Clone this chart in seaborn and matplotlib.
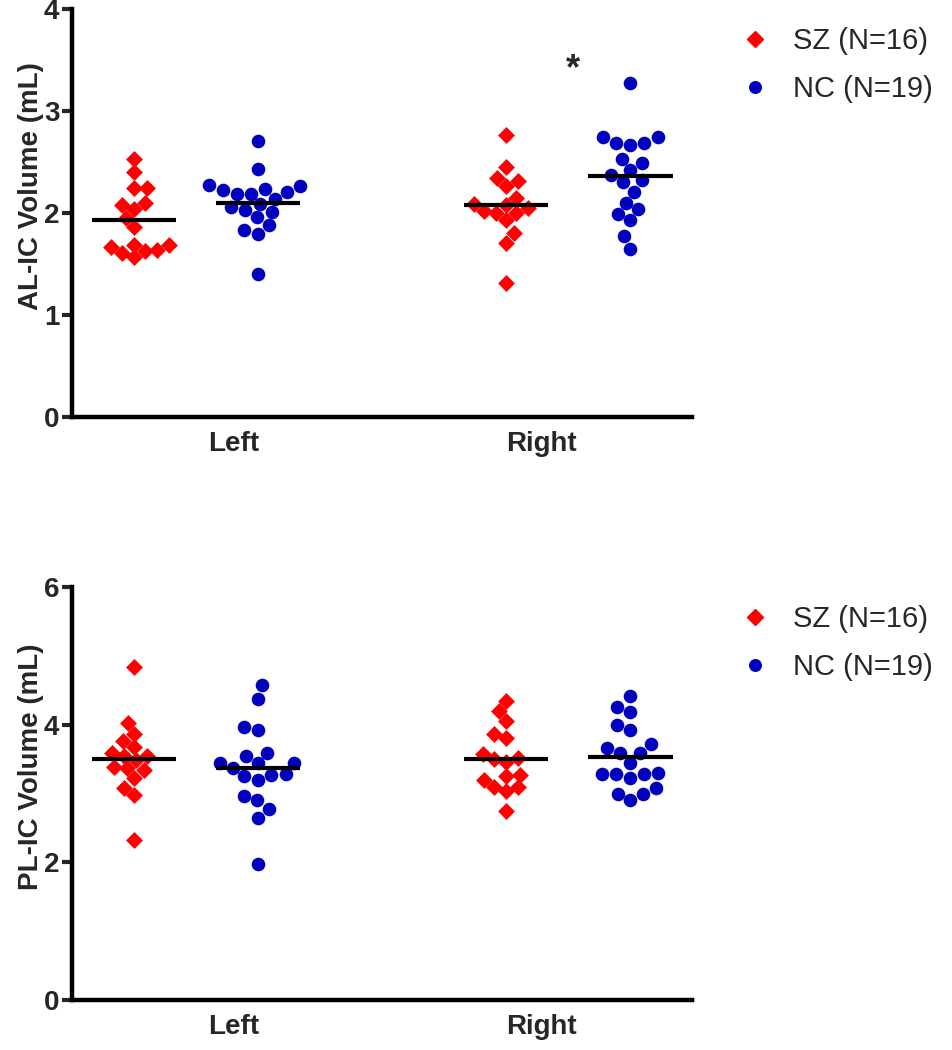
import numpy as np
import pandas as pd
import matplotlib
matplotlib.use("Agg")
import matplotlib.pyplot as plt
from matplotlib.lines import Line2D
import seaborn as sns

# -------------------------
# DATA
# -------------------------
sides = ["Left", "Right"]
groups = ["SZ", "NC"]
legend_labels = ["SZ (N=16)", "NC (N=19)"]

# anterior limb (AL-IC), mL
al_sz_left = [2.53, 2.40, 2.24, 2.24, 2.08, 2.10, 2.04, 1.95, 1.86, 1.69,
              1.63, 1.67, 1.57, 1.64, 1.61, 1.69]
al_nc_left = [2.71, 2.43, 2.19, 2.22, 2.26, 2.21, 2.27, 2.23, 2.19, 2.14,
              2.09, 2.06, 2.03, 2.01, 1.96, 1.83, 1.79, 1.88, 1.40]
al_sz_right = [2.76, 2.45, 2.34, 2.31, 2.26, 2.15, 2.09, 2.05, 2.00, 2.02,
               2.00, 2.08, 1.93, 1.80, 1.71, 1.31]
al_nc_right = [3.27, 2.74, 2.74, 2.69, 2.67, 2.69, 2.49, 2.53, 2.42, 2.37,
               2.32, 2.30, 2.21, 2.10, 1.99, 2.04, 1.93, 1.77, 1.65]

# posterior limb (PL-IC), mL
pl_sz_left = [4.84, 4.02, 3.87, 3.77, 3.68, 3.59, 3.54, 3.49, 3.55, 3.38,
              3.34, 3.37, 3.23, 3.08, 2.98, 2.32]
pl_nc_left = [4.57, 4.38, 3.96, 3.92, 3.55, 3.59, 3.44, 3.44, 3.44, 3.37,
              3.27, 3.25, 3.28, 3.20, 2.97, 2.90, 2.78, 2.65, 1.97]
pl_sz_right = [4.35, 4.20, 4.06, 3.86, 3.80, 3.51, 3.46, 3.58, 3.50, 3.27,
               3.26, 3.19, 3.09, 3.10, 3.03, 2.74]
pl_nc_right = [4.41, 4.26, 4.18, 4.00, 3.93, 3.66, 3.72, 3.59, 3.59, 3.45,
               3.28, 3.29, 3.23, 3.30, 3.28, 3.00, 3.08, 2.99, 2.90]


def make_df(sz_left, nc_left, sz_right, nc_right):
    parts = {("Left", "SZ"): sz_left, ("Left", "NC"): nc_left,
             ("Right", "SZ"): sz_right, ("Right", "NC"): nc_right}
    rows = []
    for (side, grp), vals in parts.items():
        for v in vals:
            rows.append({"side": side, "group": grp, "volume": v})
    return pd.DataFrame(rows)


al_df = make_df(al_sz_left, al_nc_left, al_sz_right, al_nc_right)
pl_df = make_df(pl_sz_left, pl_nc_left, pl_sz_right, pl_nc_right)

# -------------------------
# STYLE / LAYOUT
# -------------------------
sns.set_theme(style="ticks")
plt.rcParams['font.family'] = ['Liberation Sans', 'DejaVu Sans']

colors = {"SZ": "#FF0000", "NC": "#0000BE"}
markers = {"SZ": "D", "NC": "o"}
sizes = {"SZ": 8.6, "NC": 9.8}
positions = {("Left", "SZ"): 0.5, ("Left", "NC"): 1.5,
             ("Right", "SZ"): 3.5, ("Right", "NC"): 4.5}
label_pos = [1.3, 3.78]


def draw_panel(ax, df, ylabel, ymax, yticks):
    df = df.copy()
    df["pos"] = [positions[(s, g)] for s, g in zip(df["side"], df["group"])]
    for grp in groups:
        sub = df[df["group"] == grp]
        sns.swarmplot(data=sub, x="pos", y="volume", native_scale=True,
                      orient="x", marker=markers[grp], color=colors[grp],
                      size=sizes[grp], linewidth=0, ax=ax, warn_thresh=1)
    # mean lines
    means = df.groupby(["side", "group"])["volume"].mean()
    for (side, grp), m in means.items():
        p = positions[(side, grp)]
        ax.hlines(m, p - 0.34, p + 0.34, color="black", lw=3, zorder=5)

    ax.set_xlim(0, 5)
    ax.set_ylim(0, ymax)
    ax.set_yticks(yticks)
    ax.set_xticks(label_pos)
    ax.set_xticklabels(sides)
    ax.set_xlabel("")
    ax.set_ylabel(ylabel, fontsize=20, fontweight="bold")
    ax.yaxis.set_label_coords(-0.045, 0.565)
    for lab in ax.get_xticklabels() + ax.get_yticklabels():
        lab.set_fontweight("bold")
        lab.set_fontsize(20)
    ax.tick_params(axis="y", length=7, width=3, pad=2)
    ax.tick_params(axis="x", length=0, pad=10)
    sns.despine(ax=ax)
    for sp in ["left", "bottom"]:
        ax.spines[sp].set_linewidth(3.2)
        ax.spines[sp].set_color("black")

    handles = [Line2D([], [], marker=markers[g], color=colors[g], ls="",
                      markersize=sizes[g] * (0.95 if g == "SZ" else 0.85))
               for g in groups]
    ax.legend(handles, legend_labels, loc="upper left",
              bbox_to_anchor=(1.035, 1.02), frameon=False, fontsize=21,
              handlelength=1.0, handletextpad=0.8, labelspacing=0.68)


fig = plt.figure(figsize=(9.53, 10.5), dpi=100)
ax1 = fig.add_axes([0.0755, 0.6029, 0.651, 0.3886])
ax2 = fig.add_axes([0.0755, 0.0476, 0.651, 0.3933])

draw_panel(ax1, al_df, "AL-IC Volume (mL)", 4, [0, 1, 2, 3, 4])
draw_panel(ax2, pl_df, "PL-IC Volume (mL)", 6, [0, 2, 4, 6])

# significance mark over the right-side pair
ax1.text((positions[("Right", "SZ")] + positions[("Right", "NC")]) / 2 + 0.04,
         3.40, "*", ha="center", va="center", fontsize=26, fontweight="bold")

fig.savefig("out.png", dpi=100)
